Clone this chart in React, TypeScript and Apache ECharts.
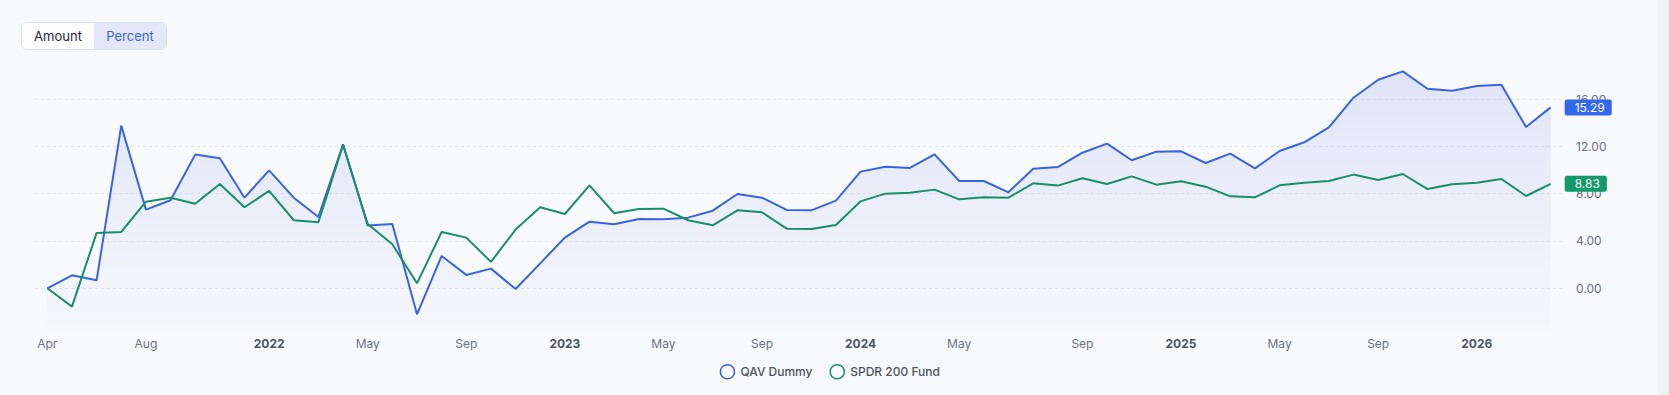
import React, { useEffect, useRef } from 'react';
import * as echarts from 'echarts';

const categories = [
  '2021-04-01', '2021-05-01', '2021-06-01', '2021-07-01', '2021-08-01', '2021-09-01', '2021-10-01', '2021-11-01', '2021-12-01',
  '2022-01-01', '2022-02-01', '2022-03-01', '2022-04-01', '2022-05-01', '2022-06-01', '2022-07-01', '2022-08-01', '2022-09-01',
  '2022-10-01', '2022-11-01', '2022-12-01',
  '2023-01-01', '2023-02-01', '2023-03-01', '2023-04-01', '2023-05-01', '2023-06-01', '2023-07-01', '2023-08-01', '2023-09-01',
  '2023-10-01', '2023-11-01', '2023-12-01',
  '2024-01-01', '2024-02-01', '2024-03-01', '2024-04-01', '2024-05-01', '2024-06-01', '2024-07-01', '2024-07-31', '2024-08-01',
  '2024-09-01', '2024-10-01', '2024-11-01', '2024-12-01',
  '2025-01-01', '2025-02-01', '2025-03-01', '2025-04-01', '2025-05-01', '2025-06-01', '2025-07-01', '2025-08-01', '2025-09-01',
  '2025-10-01', '2025-11-01', '2025-12-01',
  '2026-01-01', '2026-02-01', '2026-03-01', '2026-04-01',
];

const qavDummy = [
  0.0, 1.1, 0.68, 13.75, 6.65, 7.44, 11.3, 10.99, 7.66,
  9.97, 7.66, 6.03, 12.17, 5.3, 5.44, -2.2, 2.73, 1.13,
  1.66, -0.06, 2.11,
  4.28, 5.63, 5.41, 5.86, 5.83, 5.97, 6.56, 7.97, 7.66,
  6.62, 6.59, 7.41,
  9.86, 10.28, 10.17, 11.32, 9.07, 9.07, 8.11, 10.11, 10.25,
  11.46, 12.23, 10.82, 11.55,
  11.58, 10.59, 11.38, 10.14, 11.6, 12.34, 13.61, 16.11, 17.63,
  18.34, 16.87, 16.7,
  17.1, 17.21, 13.63, 15.29,
];

const spdr200Fund = [
  0.0, -1.55, 4.68, 4.76, 7.32, 7.66, 7.15, 8.82, 6.85,
  8.23, 5.75, 5.58, 12.11, 5.44, 3.72, 0.42, 4.76, 4.28,
  2.23, 4.96, 6.85,
  6.28, 8.7, 6.34, 6.7, 6.73, 5.75, 5.32, 6.59, 6.42,
  5.04, 5.01, 5.35,
  7.35, 8.0, 8.08, 8.34, 7.52, 7.69, 7.66, 8.87, 8.68,
  9.3, 8.82, 9.46, 8.76,
  9.04, 8.59, 7.77, 7.69, 8.7, 8.93, 9.07, 9.61, 9.15,
  9.66, 8.39, 8.79,
  8.93, 9.24, 7.8, 8.83,
];

const xTickLabels: [string, string][] = [
  ['2021-04-01', 'Apr'], ['2021-08-01', 'Aug'], ['2022-01-01', '2022'], ['2022-05-01', 'May'], ['2022-09-01', 'Sep'],
  ['2023-01-01', '2023'], ['2023-05-01', 'May'], ['2023-09-01', 'Sep'], ['2024-01-01', '2024'], ['2024-05-01', 'May'],
  ['2024-09-01', 'Sep'], ['2025-01-01', '2025'], ['2025-05-01', 'May'], ['2025-09-01', 'Sep'], ['2026-01-01', '2026'],
];

const yTickValues = [0, 4, 8, 12, 16];

const seriesNames = ['QAV Dummy', 'SPDR 200 Fund'];

const BLUE_LINE = '#3a63de';
const BLUE_TAG = '#3566ee';
const GREEN_LINE = '#198f69';
const GREEN_TAG = '#14996a';
const FONT = 'Inter, "Noto Sans", sans-serif';

export default function App() {
  const ref = useRef<HTMLDivElement>(null);

  useEffect(() => {
    if (!ref.current) return;
    const chart = echarts.init(ref.current, null, { renderer: 'svg' });
    const labelMap = new Map<string, string>(xTickLabels);
    const endLabel = (bg: string) => ({
      show: true,
      formatter: (p: any) => Number(p.value).toFixed(2),
      color: '#ffffff',
      backgroundColor: bg,
      padding: [1, 7, 1, 10],
      borderRadius: 2,
      fontSize: 12,
      lineHeight: 14,
      fontFamily: FONT,
      distance: 14,
    });
    chart.setOption({
      animation: false,
      backgroundColor: 'transparent',
      textStyle: { fontFamily: FONT },
      grid: { left: 35, right: 106, top: 57.6, bottom: 66.5, outerBoundsMode: 'none', containLabel: false },
      legend: {
        data: [
          { name: seriesNames[0], itemStyle: { color: 'rgba(0,0,0,0)', borderColor: BLUE_LINE, borderWidth: 1.5 } },
          { name: seriesNames[1], itemStyle: { color: 'rgba(0,0,0,0)', borderColor: GREEN_LINE, borderWidth: 1.5 } },
        ],
        left: 714.7,
        top: 359,
        itemWidth: 16,
        itemHeight: 14,
        itemGap: 17,
        icon: 'circle',
        textStyle: { color: '#4b5563', fontSize: 12, fontWeight: 500, fontFamily: FONT },
      },
      xAxis: {
        type: 'category',
        data: categories,
        boundaryGap: true,
        axisLine: { show: false },
        axisTick: { show: false },
        splitLine: { show: false },
        axisLabel: {
          interval: (_i: number, v: string) => labelMap.has(v),
          margin: 9,
          formatter: (v: string) => {
            const t = labelMap.get(v) ?? '';
            return /^\d{4}$/.test(t) ? `{y|${t}}` : `{m|${t}}`;
          },
          rich: {
            y: { fontWeight: 'bold', color: '#4b5563', fontSize: 12, fontFamily: FONT },
            m: { color: '#6b7280', fontSize: 12, fontFamily: FONT },
          },
        },
      },
      yAxis: {
        type: 'value',
        position: 'right',
        min: -3.4,
        max: 19.5,
        axisLine: { show: false },
        axisTick: { show: false, customValues: yTickValues },
        axisLabel: {
          customValues: yTickValues,
          formatter: (v: number) => v.toFixed(2),
          color: '#6b7280',
          fontSize: 12,
          margin: 13,
          fontFamily: FONT,
        },
        splitLine: { show: true, lineStyle: { color: '#e2e5eb', type: [3, 3], width: 1 } },
      },
      series: [
        {
          name: seriesNames[0],
          type: 'line',
          data: qavDummy,
          symbol: 'none',
          showSymbol: false,
          lineStyle: { color: BLUE_LINE, width: 2 },
          itemStyle: { color: BLUE_LINE },
          areaStyle: {
            origin: 'start',
            color: new echarts.graphic.LinearGradient(0, 0, 0, 1, [
              { offset: 0, color: 'rgba(58,99,222,0.19)' },
              { offset: 1, color: 'rgba(58,99,222,0.02)' },
            ]),
          },
          endLabel: endLabel(BLUE_TAG),
        },
        {
          name: seriesNames[1],
          type: 'line',
          data: spdr200Fund,
          symbol: 'none',
          showSymbol: false,
          lineStyle: { color: GREEN_LINE, width: 2 },
          itemStyle: { color: GREEN_LINE },
          endLabel: endLabel(GREEN_TAG),
        },
      ],
    });
    return () => chart.dispose();
  }, []);

  const segBase: React.CSSProperties = {
    width: 72,
    height: '100%',
    display: 'flex',
    alignItems: 'center',
    justifyContent: 'center',
  };

  return (
    <div style={{ position: 'fixed', left: 0, top: 0, width: 1669, height: 395, background: '#f8f9fb', overflow: 'hidden' }}>
      <div ref={ref} style={{ position: 'absolute', left: 0, top: 0, width: 1669, height: 395 }} />
      <div
        style={{
          position: 'absolute',
          left: 21,
          top: 22,
          width: 146,
          height: 28,
          boxSizing: 'border-box',
          border: '1px solid #dadfe8',
          borderRadius: 6,
          overflow: 'hidden',
          display: 'flex',
          fontFamily: FONT,
          fontSize: 13,
          fontWeight: 400,
          background: '#ffffff',
        }}
      >
        <div style={{ ...segBase, color: '#1f2937', background: '#fdfdfe' }}>Amount</div>
        <div style={{ ...segBase, color: '#3b63e0', background: '#e2e8f9' }}>Percent</div>
      </div>
      <div style={{ position: 'absolute', left: 1658, top: 0, width: 11, height: 395, background: '#f0f1f3' }} />
    </div>
  );
}
